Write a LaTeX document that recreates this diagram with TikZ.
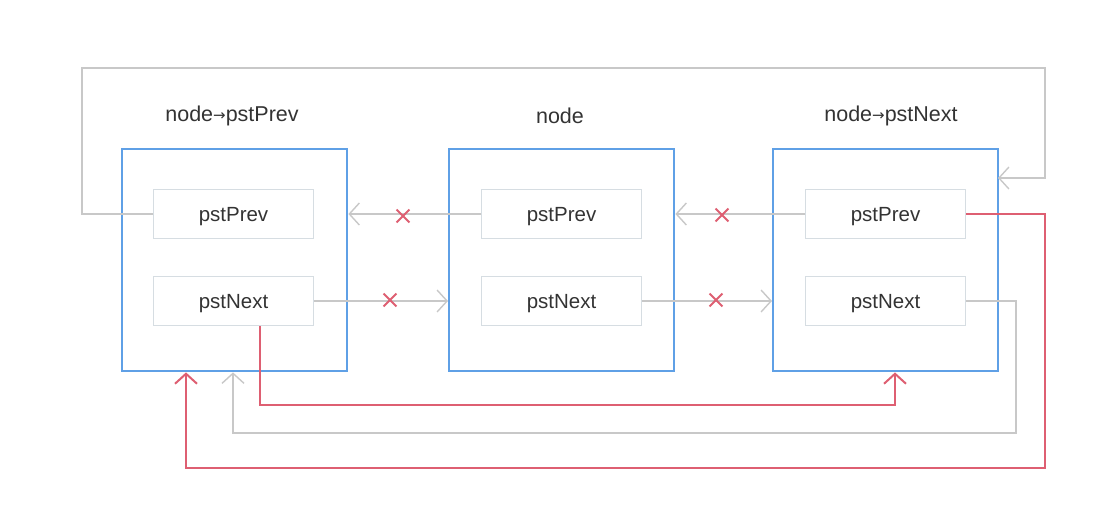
\documentclass[tikz,border=0pt]{standalone}
\usepackage{fontspec}
\setmainfont{Liberation Sans}
\newfontfamily\arrowfont{DejaVu Sans}
\usetikzlibrary{arrows.meta,shapes.misc}
\definecolor{bblue}{HTML}{5FA0E6}
\definecolor{lgray}{HTML}{C8C8C8}
\definecolor{bxgray}{HTML}{D6DDE2}
\definecolor{rred}{HTML}{DE5F72}
\definecolor{txt}{HTML}{333333}
\begin{document}
\begin{tikzpicture}[x=1pt,y=-1pt,
  outer/.style={draw=bblue,line width=2.4pt,minimum width=225pt,minimum height=222pt,anchor=north west,inner sep=0pt},
  field/.style={draw=bxgray,line width=1pt,minimum width=160pt,minimum height=49pt,anchor=north west,inner sep=0pt,text=txt,text height=17pt,text depth=2pt,font=\fontsize{20.5}{24}\selectfont},
  title/.style={text=txt,font=\fontsize{21.5}{26}\selectfont},
  gline/.style={draw=lgray,line width=1.4pt},
  rline/.style={draw=rred,line width=2pt},
  ga/.style={-{Straight Barb[length=10pt,width=22pt,line width=1.4pt]}},
  ra/.style={-{Straight Barb[length=10pt,width=22pt,line width=2pt]}},
  xmark/.style={cross out,draw=rred,line width=1.8pt,minimum size=11pt,inner sep=0pt}]
\useasboundingbox (0,0) rectangle (1120,530);
% outer boxes
\node[outer] (A) at (121,148) {};
\node[outer] (B) at (448,148) {};
\node[outer] (C) at (772,148) {};
% fields
\node[field] (Ap) at (153,189) {pstPrev};
\node[field] (An) at (153,276) {pstNext};
\node[field] (Bp) at (481,189) {pstPrev};
\node[field] (Bn) at (481,276) {pstNext};
\node[field] (Cp) at (805,189) {pstPrev};
\node[field] (Cn) at (805,276) {pstNext};
% titles
\node[title] (tA) at (232,116) {node{\arrowfont\fontsize{15}{16}\selectfont\raisebox{1pt}{→}}pstPrev};
\node[title] (tB) at (560,116) {node};
\node[title] (tC) at (891,116) {node{\arrowfont\fontsize{15}{16}\selectfont\raisebox{1pt}{→}}pstNext};
% crossed horizontal links
\draw[gline,ga] (Bp.west) -- (A.east |- Bp.west);
\draw[gline,ga] (An.east) -- (B.west |- An.east);
\draw[gline,ga] (Cp.west) -- (B.east |- Cp.west);
\draw[gline,ga] (Bn.east) -- (C.west |- Bn.east);
\node[xmark] (x1) at (403,216) {};
\node[xmark] (x2) at (390,300) {};
\node[xmark] (x3) at (722,215) {};
\node[xmark] (x4) at (716,300) {};
% outer gray loop: A.pstPrev -> C
\coordinate (c1) at (998,178);
\draw[gline,ga] (Ap.west) -| (82,68) -- (1045,68) -- (1045,178) -- (c1);
% gray: C.pstNext -> A bottom
\draw[gline,ga] (Cn.east) -| (1016,433) -- (233,433) -- (A.south -| 233,0);
% red: C.pstPrev -> A bottom
\draw[rline,ra] (Cp.east) -| (1045,468) -- (186,468) -- (A.south -| 186,0);
% red: A.pstNext -> C bottom
\draw[rline,ra] (An.south -| 260,0) -- (260,405) -- (895,405) -- (C.south -| 895,0);
\end{tikzpicture}
\end{document}
